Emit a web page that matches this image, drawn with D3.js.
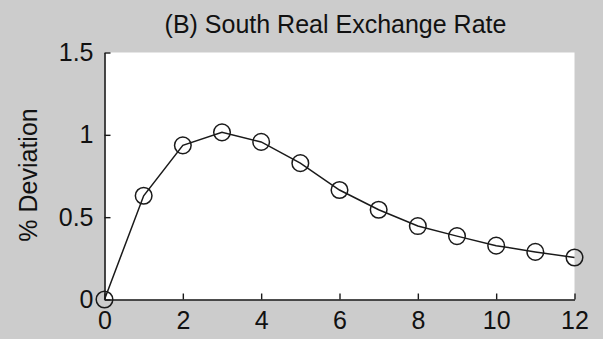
<!DOCTYPE html>
<html>
<head>
<meta charset="utf-8">
<script src="https://cdn.jsdelivr.net/npm/d3@7"></script>
<style>
  html, body { margin: 0; padding: 0; background: #cccccc; }
  svg { display: block; }
  text { font-family: Arial, "Liberation Sans", sans-serif; fill: #111; }
</style>
</head>
<body>
<svg id="chart" width="603" height="339"></svg>
<script>
// Impulse response: South real exchange rate, % deviation by period
const periods = [0, 1, 2, 3, 4, 5, 6, 7, 8, 9, 10, 11, 12];
const deviation = [0, 0.63, 0.936, 1.015, 0.957, 0.828, 0.665, 0.545, 0.446, 0.385, 0.327, 0.289, 0.255];
const xTicks = [0, 2, 4, 6, 8, 10, 12];
const yTicks = [0, 0.5, 1, 1.5];
const yTickLabels = ["0", "0.5", "1", "1.5"];
const titleText = "(B) South Real Exchange Rate";
const yLabelText = "% Deviation";

const svg = d3.select("#chart");
const W = 603, H = 339;
const m = { left: 104.5, right: 28.5, top: 52.5, bottom: 39.5 };

svg.append("rect").attr("width", W).attr("height", H).attr("fill", "#cccccc");

const x = d3.scaleLinear().domain([0, 12]).range([m.left, W - m.right]);
const y = d3.scaleLinear().domain([0, 1.5]).range([H - m.bottom, m.top]);

// white axes background
svg.append("rect")
  .attr("x", x(0)).attr("y", y(1.5))
  .attr("width", x(12) - x(0)).attr("height", y(0) - y(1.5))
  .attr("fill", "#ffffff");

const ink = "#1a1a1a";

// x axis, ticks pointing inward
const xAxis = svg.append("g")
  .attr("transform", `translate(0,${y(0)})`)
  .call(d3.axisBottom(x).tickValues(xTicks).tickSizeInner(-6).tickSizeOuter(0).tickPadding(12).tickFormat(d3.format("d")));
xAxis.select(".domain").attr("stroke", ink).attr("stroke-width", 1.6);
xAxis.selectAll(".tick line").attr("stroke", ink).attr("stroke-width", 1.4);
xAxis.selectAll(".tick text")
  .attr("font-size", 25).attr("fill", "#111")
  .attr("font-family", "Arial, 'Liberation Sans', sans-serif");

// y axis, ticks pointing inward
const yAxis = svg.append("g")
  .attr("transform", `translate(${x(0)},0)`)
  .call(d3.axisLeft(y).tickValues(yTicks).tickSizeInner(-6).tickSizeOuter(0).tickPadding(11)
    .tickFormat((d, i) => yTickLabels[i]));
yAxis.select(".domain").attr("stroke", ink).attr("stroke-width", 1.6);
yAxis.selectAll(".tick line").attr("stroke", ink).attr("stroke-width", 1.4);
yAxis.selectAll(".tick text")
  .attr("font-size", 25).attr("fill", "#111")
  .attr("font-family", "Arial, 'Liberation Sans', sans-serif");

// title
svg.append("text")
  .attr("x", (x(0) + x(12)) / 2 - 4).attr("y", 33)
  .attr("text-anchor", "middle")
  .attr("font-size", 25)
  .text(titleText);

// y axis label
svg.append("text")
  .attr("transform", `translate(37,${175}) rotate(-90)`)
  .attr("text-anchor", "middle")
  .attr("font-size", 25)
  .text(yLabelText);

// response line
const pts = periods.map((p, i) => [p, deviation[i]]);
svg.append("path")
  .datum(pts)
  .attr("fill", "none")
  .attr("stroke", ink)
  .attr("stroke-width", 1.5)
  .attr("d", d3.line().x(d => x(d[0])).y(d => y(d[1])));

// open circle markers
svg.append("g").selectAll("circle")
  .data(pts)
  .join("circle")
  .attr("cx", d => x(d[0]))
  .attr("cy", d => y(d[1]))
  .attr("r", 8.3)
  .attr("fill", "none")
  .attr("stroke", ink)
  .attr("stroke-width", 1.5);
</script>
</body>
</html>
